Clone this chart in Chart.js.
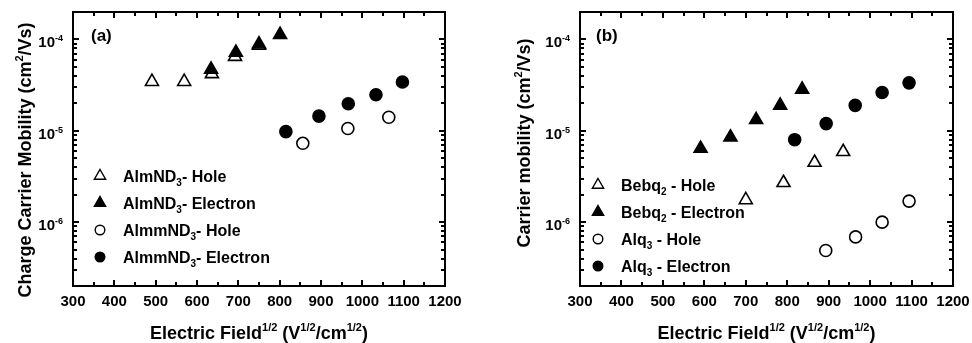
<!DOCTYPE html>
<html lang="en">
<head>
  <meta charset="UTF-8">
  <title>Carrier mobility vs field</title>
  <script src="https://cdn.jsdelivr.net/npm/chart.js"></script>
  <style>
    body { margin: 0; background: #fff; }
    .wrap { display: flex; width: 972px; height: 343px; }
    .panel { width: 486px; height: 343px; }
  </style>
</head>
<body>
<div class="wrap">
  <div class="panel"><canvas id="chartA" width="486" height="343"></canvas></div>
  <div class="panel"><canvas id="chartB" width="486" height="343"></canvas></div>
</div>
<script>
// axes
const xMajor = [300, 400, 500, 600, 700, 800, 900, 1000, 1100, 1200];
const xMinor = [350, 450, 550, 650, 750, 850, 950, 1050, 1150];
const yMajor = [1e-4, 1e-5, 1e-6];
const yExp = ['-4', '-5', '-6'];
const xRange = [300, 1200];
const yRange = [2e-7, 2e-4];

// panel (a)
const almHoleX = [491, 569, 636, 692, 750];
const almHoleY = [3.45e-5, 3.45e-5, 4.2e-5, 6.5e-5, 8.6e-5];
const almElecX = [634, 694, 750, 801];
const almElecY = [4.7e-5, 7.2e-5, 8.9e-5, 1.13e-4];
const almmHoleX = [856, 965, 1064];
const almmHoleY = [7.3e-6, 1.06e-5, 1.41e-5];
const almmElecX = [815, 895, 966, 1033, 1097];
const almmElecY = [9.8e-6, 1.45e-5, 1.98e-5, 2.48e-5, 3.43e-5];

// panel (b)
const bebqHoleX = [700, 791, 866, 935];
const bebqHoleY = [1.75e-6, 2.7e-6, 4.5e-6, 5.9e-6];
const bebqElecX = [591, 663, 725, 783, 836];
const bebqElecY = [6.4e-6, 8.5e-6, 1.32e-5, 1.9e-5, 2.84e-5];
const alqHoleX = [893, 965, 1029, 1094];
const alqHoleY = [4.9e-7, 6.9e-7, 1.0e-6, 1.7e-6];
const alqElecX = [818, 894, 964, 1029, 1094];
const alqElecY = [8.0e-6, 1.2e-5, 1.9e-5, 2.63e-5, 3.35e-5];

const FONT = 'Arial, "Liberation Sans", sans-serif';

function pts(xs, ys) { return xs.map((x, i) => ({ x: x, y: ys[i] })); }

function series(xs, ys, shape, filled) {
  return {
    data: pts(xs, ys),
    pointStyle: shape,
    pointRadius: shape === 'triangle' ? 7.5 : 6,
    pointHoverRadius: shape === 'triangle' ? 7.5 : 6,
    backgroundColor: filled ? '#000' : '#fff',
    borderColor: '#000',
    borderWidth: 1.6,
    showLine: false
  };
}

// text with superscript (1) / subscript (-1) parts, y = baseline
function rich(ctx, parts, x, y, align, size) {
  const small = Math.round(size * 0.62);
  let w = 0;
  parts.forEach(p => {
    ctx.font = `bold ${p[1] ? small : size}px ${FONT}`;
    w += ctx.measureText(p[0]).width;
  });
  let cx = align === 'center' ? x - w / 2 : align === 'right' ? x - w : x;
  ctx.textAlign = 'left';
  ctx.textBaseline = 'alphabetic';
  parts.forEach(p => {
    ctx.font = `bold ${p[1] ? small : size}px ${FONT}`;
    const dy = p[1] === 1 ? -size * 0.42 : p[1] === -1 ? size * 0.28 : 0;
    ctx.fillText(p[0], cx, y + dy);
    cx += ctx.measureText(p[0]).width;
  });
}

function marker(ctx, shape, filled, x, y) {
  ctx.beginPath();
  if (shape === 'triangle') {
    const r = 6.5;
    ctx.moveTo(x, y - r);
    ctx.lineTo(x + r * 0.866, y + r * 0.5);
    ctx.lineTo(x - r * 0.866, y + r * 0.5);
    ctx.closePath();
  } else {
    ctx.arc(x, y, 4.8, 0, Math.PI * 2);
  }
  ctx.fillStyle = filled ? '#000' : '#fff';
  ctx.fill();
  ctx.lineWidth = 1.4;
  ctx.strokeStyle = '#000';
  ctx.stroke();
}

const decor = {
  id: 'decor',
  afterDraw(chart, args, o) {
    const ctx = chart.ctx;
    const xs = chart.scales.x, ys = chart.scales.y;
    const L = Math.round(chart.chartArea.left), R = Math.round(chart.chartArea.right);
    const T = Math.round(chart.chartArea.top), B = Math.round(chart.chartArea.bottom);
    ctx.save();
    ctx.fillStyle = '#000';
    // ticks on all four sides, pointing in (solid 2px bars)
    const tickX = (v, len) => {
      const p = Math.round(xs.getPixelForValue(v));
      ctx.fillRect(p - 1, B - len, 2, len);
      ctx.fillRect(p - 1, T, 2, len);
    };
    const tickY = (v, len) => {
      const p = Math.round(ys.getPixelForValue(v));
      ctx.fillRect(L, p - 1, len, 2);
      ctx.fillRect(R - len, p - 1, len, 2);
    };
    xMajor.forEach(v => tickX(v, 6));
    xMinor.forEach(v => tickX(v, 4));
    for (let e = -7; e <= -4; e++) {
      for (let k = 1; k <= 9; k++) {
        const v = k * Math.pow(10, e);
        if (v < yRange[0] * 0.999 || v > yRange[1] * 1.001) continue;
        tickY(v, k === 1 ? 6 : 4);
      }
    }
    // frame
    ctx.fillRect(L - 1, T - 1, R - L + 2, 2);
    ctx.fillRect(L - 1, B - 1, R - L + 2, 2);
    ctx.fillRect(L - 1, T - 1, 2, B - T + 2);
    ctx.fillRect(R - 1, T - 1, 2, B - T + 2);

    // x tick labels
    ctx.font = `bold 15px ${FONT}`;
    ctx.textAlign = 'center';
    ctx.textBaseline = 'alphabetic';
    xMajor.forEach(v => ctx.fillText(String(v), xs.getPixelForValue(v), B + 20));
    // y tick labels
    yMajor.forEach((v, i) => {
      const p = ys.getPixelForValue(v);
      rich(ctx, [['10', 0], [yExp[i], 1]], L - 10, p + 8, 'right', 15);
    });

    // axis titles
    const cx = (L + R) / 2;
    rich(ctx, [['Electric Field', 0], ['1/2', 1], [' (V', 0], ['1/2', 1], ['/cm', 0], ['1/2', 1], [')', 0]],
      cx, 339, 'center', 18);
    ctx.save();
    ctx.translate(o.yTitleX, o.yTitleY);
    ctx.rotate(-Math.PI / 2);
    rich(ctx, o.yTitle, 0, 0, 'center', 18);
    ctx.restore();

    // panel label
    ctx.font = `bold 17px ${FONT}`;
    ctx.textAlign = 'left';
    ctx.fillText(o.tag, o.tagX, 41);

    // legend
    o.legend.forEach((row, i) => {
      const y = o.legY + i * o.legStep;
      marker(ctx, row.shape, row.filled, o.legX, y);
      ctx.fillStyle = '#000';
      rich(ctx, row.text, o.legX + 23, y + 6, 'left', 16);
    });
    ctx.restore();
  }
};

function makeChart(id, datasets, pad, opts) {
  return new Chart(document.getElementById(id), {
    type: 'scatter',
    data: { datasets: datasets },
    plugins: [decor],
    options: {
      responsive: false,
      animation: false,
      layout: { padding: pad },
      scales: {
        x: { type: 'linear', min: xRange[0], max: xRange[1], display: false },
        y: { type: 'logarithmic', min: yRange[0], max: yRange[1], display: false }
      },
      plugins: { legend: { display: false }, tooltip: { enabled: false }, decor: opts }
    }
  });
}

makeChart('chartA', [
  series(almElecX, almElecY, 'triangle', true),
  series(almHoleX, almHoleY, 'triangle', false),
  series(almmElecX, almmElecY, 'circle', true),
  series(almmHoleX, almmHoleY, 'circle', false)
], { left: 73, right: 41, top: 12, bottom: 57 }, {
  tag: '(a)', tagX: 91,
  yTitle: [['Charge Carrier Mobility (cm', 0], ['2', 1], ['/Vs)', 0]],
  yTitleX: 31, yTitleY: 160,
  legX: 100, legY: 176, legStep: 27,
  legend: [
    { shape: 'triangle', filled: false, text: [['AlmND', 0], ['3', -1], ['- Hole', 0]] },
    { shape: 'triangle', filled: true, text: [['AlmND', 0], ['3', -1], ['- Electron', 0]] },
    { shape: 'circle', filled: false, text: [['AlmmND', 0], ['3', -1], ['- Hole', 0]] },
    { shape: 'circle', filled: true, text: [['AlmmND', 0], ['3', -1], ['- Electron', 0]] }
  ]
});

makeChart('chartB', [
  series(bebqElecX, bebqElecY, 'triangle', true),
  series(bebqHoleX, bebqHoleY, 'triangle', false),
  series(alqElecX, alqElecY, 'circle', true),
  series(alqHoleX, alqHoleY, 'circle', false)
], { left: 94, right: 19, top: 12, bottom: 57 }, {
  tag: '(b)', tagX: 110,
  yTitle: [['Carrier mobility (cm', 0], ['2', 1], ['/Vs)', 0]],
  yTitleX: 44, yTitleY: 143,
  legX: 112, legY: 185, legStep: 27,
  legend: [
    { shape: 'triangle', filled: false, text: [['Bebq', 0], ['2', -1], [' - Hole', 0]] },
    { shape: 'triangle', filled: true, text: [['Bebq', 0], ['2', -1], [' - Electron', 0]] },
    { shape: 'circle', filled: false, text: [['Alq', 0], ['3', -1], [' - Hole', 0]] },
    { shape: 'circle', filled: true, text: [['Alq', 0], ['3', -1], [' - Electron', 0]] }
  ]
});
</script>
</body>
</html>
